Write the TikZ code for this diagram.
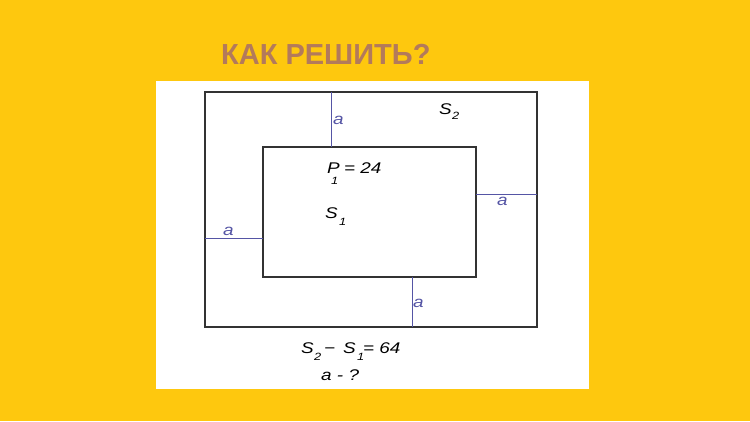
\documentclass[tikz,border=0pt]{standalone}
\usepackage{fontspec}
\setmainfont{Liberation Sans}
\newfontfamily\lblfont[FakeStretch=1.22]{Liberation Sans}
\definecolor{bgyellow}{HTML}{FEC80E}
\definecolor{titlebrown}{HTML}{B37A5B}
\definecolor{seglblue}{HTML}{5555A5}
\definecolor{rectgray}{HTML}{333333}
\begin{document}
\begin{tikzpicture}[x=1pt,y=-1pt,
  rectline/.style={draw=rectgray,line width=1.1pt},
  segline/.style={draw=seglblue,line width=1pt},
  seglabel/.style={text=seglblue,font=\lblfont\itshape\fontsize{15.5}{15.5}\selectfont,inner sep=0pt,anchor=base west},
  mathlabel/.style={text=black,font=\lblfont\itshape\fontsize{15.5}{15.5}\selectfont,inner sep=0pt,anchor=base west},
  sublabel/.style={text=black,font=\lblfont\itshape\fontsize{10.5}{10.5}\selectfont,inner sep=0pt,anchor=base west}]
\fill[bgyellow] (0,0) rectangle (750,421);
\useasboundingbox (0,0) rectangle (750,421);
\fill[white] (156,81) rectangle (589,389);
\node[text=titlebrown,font=\bfseries\fontsize{29}{29}\selectfont,inner sep=0pt,anchor=base west] (title) at (221,64) {КАК РЕШИТЬ?};
% rectangles
\draw[rectline] (205,92) rectangle (537,327);
\draw[rectline] (263,147) rectangle (476,277);
% connectors
\coordinate (t1) at (331,92); \coordinate (t2) at (331,147);
\coordinate (r1) at (476,194); \coordinate (r2) at (537,194);
\coordinate (l1) at (205,238); \coordinate (l2) at (263,238);
\coordinate (b1) at (412,277); \coordinate (b2) at (412,327);
\draw[segline] (t1) -- (t2);
\draw[segline] (r1) -- (r2);
\draw[segline] (l1) -- (l2);
\draw[segline] (b1) -- (b2);
\node[seglabel] (at) at (333,124) {a};
\node[seglabel] (ar) at (497,205) {a};
\node[seglabel] (al) at (223,235) {a};
\node[seglabel] (ab) at (413,307) {a};
% labels
\node[mathlabel] (s2) at (439,114) {S};
\node[sublabel] (s2i) at (452,119) {2};
\node[mathlabel] (p1) at (327,173) {P};
\node[sublabel] (p1i) at (331,184) {1};
\node[mathlabel] (p1v) at (344,173) {= 24};
\node[mathlabel] (s1) at (325,218) {S};
\node[sublabel] (s1i) at (339,225) {1};
\node[mathlabel] (d1) at (301,353) {S};
\node[sublabel] (d1i) at (314,360) {2};
\node[mathlabel] (dm) at (324,353) {−};
\node[mathlabel] (d2) at (343,353) {S};
\node[sublabel] (d2i) at (357,360) {1};
\node[mathlabel] (dv) at (363,353) {=  64};
\node[mathlabel] (q) at (321,380) {a - ?};
\end{tikzpicture}
\end{document}
